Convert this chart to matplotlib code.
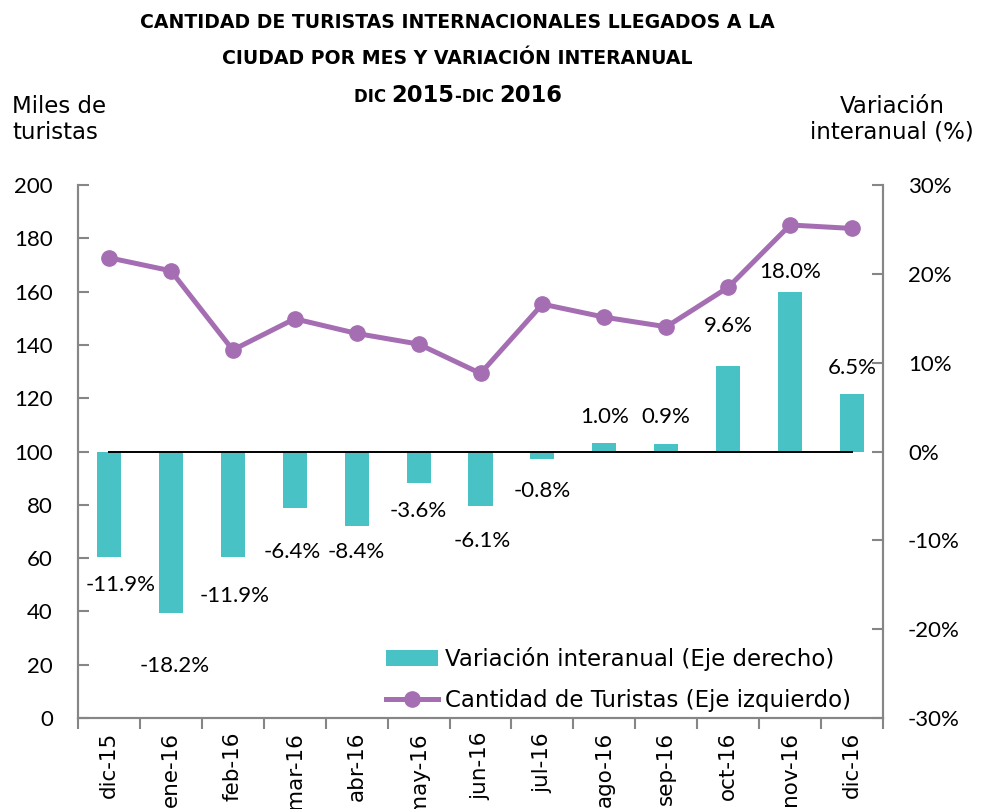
import matplotlib
matplotlib.use("Agg")
import matplotlib.pyplot as plt
from matplotlib.offsetbox import TextArea, HPacker, AnnotationBbox

meses = ["dic-15", "ene-16", "feb-16", "mar-16", "abr-16", "may-16", "jun-16",
         "jul-16", "ago-16", "sep-16", "oct-16", "nov-16", "dic-16"]
turistas = [172.7, 167.8, 138.1, 149.8, 144.3, 140.3, 129.3,
            155.3, 150.4, 146.8, 161.6, 185.0, 183.7]
variacion = [-11.9, -18.2, -11.9, -6.4, -8.4, -3.6, -6.1,
             -0.8, 1.0, 0.9, 9.6, 18.0, 6.5]

# distancia (px) de cada etiqueta al extremo de la barra, como en el original
lbl_dy = [28, 53, 39, 44, 26, 28, 35, 32, 26, 27, 40, 20, 26]
lbl_dx = [12, 4, 2, -2, 0, 0, 2, 0, 0, 0, 0, 0, 0]

TEAL = "#49C2C5"
PURPLE = "#A56EB3"
GRAY = "#868686"
TXT = "DejaVu Sans"   # letras anchas
NUM = "Lato"          # cifras estrechas
FS = 16.5

plt.rcParams["font.family"] = [TXT]

fig = plt.figure(figsize=(9.89, 8.09), dpi=100)
ax = fig.add_axes([78 / 989, 91 / 809, 805 / 989, 533 / 809])
ax2 = ax.twinx()

x = list(range(len(meses)))

# barras de variacion en el eje derecho
ax2.bar(x, variacion, width=0.39, color=TEAL, zorder=2,
        label="Variación interanual (Eje derecho)")
ax2.plot([0, len(meses) - 1], [0, 0], color="black", lw=1.4, zorder=3)
ax2.set_ylim(-30, 30)
ax2.set_yticks([-30, -20, -10, 0, 10, 20, 30])
ax2.set_yticklabels([f"{v}%" for v in [-30, -20, -10, 0, 10, 20, 30]],
                    family=NUM)

for i, v in enumerate(variacion):
    dy = lbl_dy[i] * 0.72 if v > 0 else -lbl_dy[i] * 0.72
    ax2.annotate(f"{v:.1f}%", (i, v), xytext=(lbl_dx[i] * 0.72, dy),
                 textcoords="offset points", ha="center", va="center",
                 fontsize=16, family=NUM, zorder=5)

# linea de turistas en el eje izquierdo
ax.plot(x, turistas, color=PURPLE, lw=3.6, marker="o", markersize=11,
        zorder=4, label="Cantidad de Turistas (Eje izquierdo)")
ax.set_ylim(0, 200)
ax.set_yticks(range(0, 201, 20))
ax.set_yticklabels([str(v) for v in range(0, 201, 20)], family=NUM)
ax.set_xlim(-0.5, len(meses) - 0.5)
ax.set_zorder(ax2.get_zorder() + 1)
ax.patch.set_visible(False)

ax.set_xticks([i + 0.5 for i in range(-1, len(meses))], minor=False)
ax.set_xticklabels([])
ax.set_xticks(x, minor=True)
ax.set_xticklabels(meses, minor=True, rotation=90, fontsize=15.5)
ax.tick_params(axis="x", which="major", direction="out", length=8, color=GRAY, width=1.5)
ax.tick_params(axis="x", which="minor", length=0, pad=10)
ax.tick_params(axis="y", direction="in", length=8, color=GRAY, width=1.5,
               labelsize=16, pad=18)
ax2.tick_params(axis="y", direction="in", length=8, color=GRAY, width=1.5,
                labelsize=16, pad=18)

for a in (ax, ax2):
    a.spines["top"].set_visible(False)
    for s in ("left", "right", "bottom"):
        a.spines[s].set_color(GRAY)
        a.spines[s].set_linewidth(1.5)

h1, l1 = ax2.get_legend_handles_labels()
h2, l2 = ax.get_legend_handles_labels()
ax.legend(h1 + h2, l1 + l2, loc="lower right", bbox_to_anchor=(0.96, 0.012),
          frameon=False, fontsize=FS, handlelength=2.3, handletextpad=0.28,
          labelspacing=0.75, borderpad=0, borderaxespad=0)

# titulos
fig.text(457 / 989, 1 - 22 / 809, "CANTIDAD DE TURISTAS INTERNACIONALES LLEGADOS A LA",
         ha="center", va="center", fontsize=13.6, fontweight="bold")
fig.text(457 / 989, 1 - 59 / 809, "CIUDAD POR MES Y VARIACIÓN INTERANUAL",
         ha="center", va="center", fontsize=13.6, fontweight="bold")
partes = [("DIC ", 12), ("2015", 16.3), ("-DIC ", 12), ("2016", 16.3)]
cajas = [TextArea(t, textprops=dict(fontsize=s, fontweight="bold"))
         for t, s in partes]
pack = HPacker(children=cajas, align="baseline", pad=0, sep=0)
ab = AnnotationBbox(pack, (458 / 989, 1 - 96 / 809), xycoords="figure fraction",
                    frameon=False, box_alignment=(0.5, 0.5))
fig.add_artist(ab)

fig.text(12 / 989, 1 - 95 / 809, "Miles de\nturistas", ha="left", va="top",
         fontsize=FS, linespacing=1.15)
fig.text(892 / 989, 1 - 95 / 809, "Variación\ninteranual (%)", ha="center",
         va="top", fontsize=FS, linespacing=1.15, multialignment="center")

fig.savefig("out.png", dpi=100)
